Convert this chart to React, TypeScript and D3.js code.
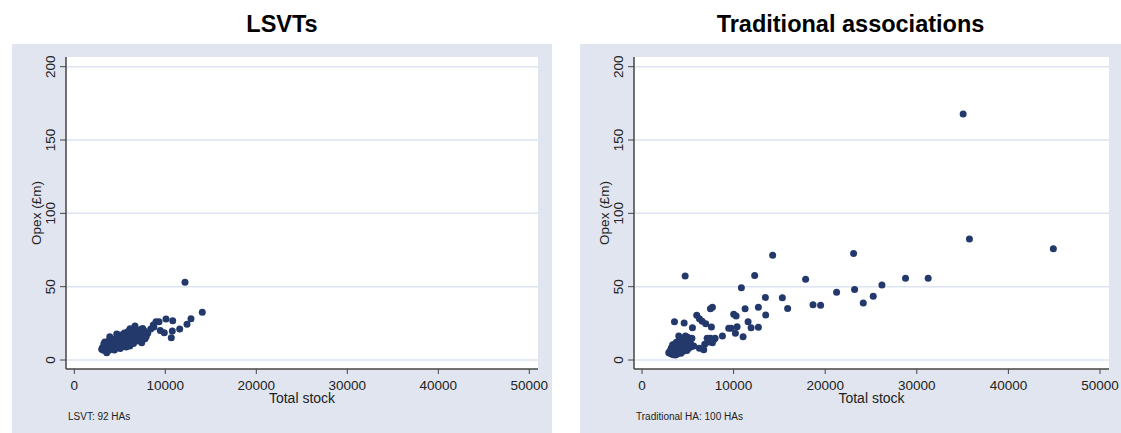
import React from "react";
import * as d3 from "d3";

// LSVT housing associations: total stock and opex (£m)
const lsvtStock: number[] = [
  12165, 14066, 12824, 12385, 11582, 10813, 10077, 10769, 10659, 9890, 9308, 8978, 9451, 8681, 8750, 8396, 8066, 7769, 7330, 7516, 6670, 7110, 6121, 7407,
  3011, 3100, 3200, 3300, 3350, 3450, 3560, 3600, 3700, 3750, 3800, 3900, 3950, 4000, 4100, 4150, 4200, 4300, 4350, 4400, 4500, 4550, 4659, 4700, 4750, 4800,
  4900, 4950, 5000, 5050, 5100, 5200, 5250, 5300, 5400, 5450, 5500, 5600, 5650, 5700, 5800, 5850, 5900, 6000, 6050, 6150, 6200, 6300, 6400, 6500, 6550, 6650,
  6750, 6850, 6950, 7050, 7200, 7500, 7700, 7900, 3400, 3850, 4600, 5150, 3250, 4050, 5550, 6100,
];
const lsvtOpex: number[] = [
  53.0, 32.5, 28.2, 24.3, 21.1, 26.8, 28.0, 19.8, 15.2, 18.6, 26.1, 26.1, 20.2, 23.9, 22.5, 21.1, 18.2, 14.5, 20.9, 21.4, 23.2, 20.0, 21.3, 11.8,
  7.3, 8.5, 6.6, 9.8, 12.2, 7.8, 5.0, 10.5, 8.2, 6.4, 11.6, 15.9, 9.3, 7.2, 12.8, 10.1, 8.6, 14.0, 11.2, 6.9, 9.6, 13.1, 17.7, 12.0, 8.4, 15.3,
  10.6, 13.9, 17.0, 7.9, 11.5, 14.6, 9.2, 16.3, 12.4, 10.0, 18.4, 14.0, 11.1, 8.8, 16.8, 13.2, 19.5, 10.3, 15.0, 12.6, 17.4, 13.8, 16.0, 11.3, 19.0, 14.8,
  17.6, 12.9, 16.3, 15.2, 18.3, 16.7, 19.8, 16.0, 10.9, 13.5, 11.9, 9.1, 11.0, 9.9, 12.5, 9.5,
];

// Traditional housing associations: total stock and opex (£m)
const tradStock: number[] = [
  35060, 35747, 44907, 23097, 14264, 17862, 28768, 31243, 26194, 23206, 21243, 25245, 24155, 15322, 15900, 18670, 19498, 4711, 12301, 10851, 13468, 12705,
  13501, 11254, 11581, 11908, 12705, 10011, 10273, 10382, 10196, 11036, 9466, 9727, 8779, 7688, 7470, 7982, 7579, 6957, 5976, 6270, 6565, 5507, 4602, 3544,
  6270, 6739, 7110, 7470, 7873, 6848, 7285, 7688,
  2922, 3050, 3150, 3200, 3300, 3350, 3400, 3470, 3500, 3600, 3653, 3700, 3750, 3800, 3850, 3900, 3950, 4015, 4050, 4100, 4150, 4200, 4250, 4300, 4350,
  4400, 4450, 4500, 4550, 4600, 4650, 4744, 4800, 4850, 4900, 4995, 5050, 5100, 5200, 5289, 5350, 5450, 5649, 3250, 3550, 4000,
];
const tradOpex: number[] = [
  167.7, 82.5, 75.9, 72.7, 71.4, 55.0, 55.7, 55.7, 51.1, 48.0, 46.2, 43.4, 38.9, 42.5, 35.2, 37.7, 37.3, 57.3, 57.7, 49.3, 42.7, 35.9,
  30.7, 35.0, 26.1, 22.0, 22.3, 31.2, 30.0, 22.7, 18.2, 15.9, 21.6, 21.6, 16.4, 35.9, 35.0, 14.8, 22.5, 24.8, 30.5, 28.2, 26.4, 22.0, 25.2, 26.1,
  8.0, 7.0, 14.8, 14.8, 14.1, 10.7, 12.3, 11.8,
  5.0, 6.2, 4.3, 8.1, 5.5, 10.4, 3.6, 10.2, 7.0, 4.8, 3.4, 9.2, 12.1, 6.3, 4.1, 8.6, 11.0, 16.4, 5.2, 13.5, 7.6, 9.9, 4.6, 12.3, 6.8,
  10.8, 14.6, 5.9, 8.4, 11.7, 7.1, 16.4, 13.0, 9.4, 6.4, 15.5, 11.9, 8.0, 13.8, 11.4, 9.0, 14.9, 9.5, 7.4, 9.0, 8.9,
];

const xTicks: number[] = [0, 10000, 20000, 30000, 40000, 50000];
const yTicks: number[] = [0, 50, 100, 150, 200];
const panelTitles: string[] = ["LSVTs", "Traditional associations"];
const panelNotes: string[] = ["LSVT: 92 HAs", "Traditional HA: 100 HAs"];
const xTitle = "Total stock";
const yTitle = "Opex (£m)";

const FONT = "'Liberation Sans', Arial, Helvetica, sans-serif";
const BG = "#e0e5ef";
const GRID = "#dde4ef";
const DOT = "#24396b";
const AXIS = "#444";

interface PanelProps {
  title: string;
  note: string;
  xs: number[];
  ys: number[];
  bgLeft: number;
  bgRight: number;
  plotLeft: number;
  plotRight: number;
  x0px: number;
  x50px: number;
}

function Panel(p: PanelProps) {
  const top = 57;
  const axisY = 369;
  const x = d3.scaleLinear().domain([0, 50000]).range([p.x0px, p.x50px]);
  const y = d3.scaleLinear().domain([0, 200]).range([360, 66.7]);
  const cx = (p.bgLeft + p.bgRight) / 2;
  const plotMid = (p.plotLeft + p.plotRight) / 2;
  const tickLabX = p.plotLeft - 11;
  const titleX = p.plotLeft - 25;
  return (
    <g>
      <text x={cx} y={32} textAnchor="middle" fontFamily={FONT} fontWeight="bold" fontSize={23.5} fill="#000">
        {p.title}
      </text>
      <rect x={p.bgLeft} y={44} width={p.bgRight - p.bgLeft} height={389} fill={BG} />
      <rect x={p.plotLeft} y={top} width={p.plotRight - p.plotLeft} height={axisY - top} fill="#fff" />
      {yTicks.map((t) => (
        <line key={"g" + t} x1={p.plotLeft} x2={p.plotRight} y1={y(t)} y2={y(t)} stroke={GRID} strokeWidth={1.5} />
      ))}
      {p.xs.map((v, i) => (
        <circle key={i} cx={x(v)} cy={y(p.ys[i])} r={3.5} fill={DOT} />
      ))}
      <line x1={p.plotLeft} x2={p.plotLeft} y1={top} y2={axisY} stroke={AXIS} strokeWidth={1.5} />
      <line x1={p.plotLeft} x2={p.plotRight} y1={axisY} y2={axisY} stroke={AXIS} strokeWidth={1.5} />
      {yTicks.map((t) => (
        <g key={"y" + t}>
          <line x1={p.plotLeft - 6} x2={p.plotLeft} y1={y(t)} y2={y(t)} stroke={AXIS} strokeWidth={1} />
          <text
            x={tickLabX}
            y={y(t)}
            transform={`rotate(-90 ${tickLabX} ${y(t)})`}
            textAnchor="middle"
            fontFamily={FONT}
            fontSize={13.5}
            fill="#222"
          >
            {t}
          </text>
        </g>
      ))}
      {xTicks.map((t) => (
        <g key={"x" + t}>
          <line x1={x(t)} x2={x(t)} y1={axisY} y2={axisY + 5} stroke={AXIS} strokeWidth={1} />
          <text x={x(t)} y={390} textAnchor="middle" fontFamily={FONT} fontSize={13.5} fill="#222">
            {t}
          </text>
        </g>
      ))}
      <text x={plotMid} y={403} textAnchor="middle" fontFamily={FONT} fontSize={14} fill="#222">
        {xTitle}
      </text>
      <text
        x={titleX}
        y={213}
        transform={`rotate(-90 ${titleX} 213)`}
        textAnchor="middle"
        fontFamily={FONT}
        fontSize={13.5}
        fill="#222"
      >
        {yTitle}
      </text>
      <text x={p.plotLeft + 2} y={420} fontFamily={FONT} fontSize={10} fill="#222">
        {p.note}
      </text>
    </g>
  );
}

export default function App() {
  return (
    <svg
      width={1121}
      height={433}
      style={{ position: "absolute", left: 0, top: 0, background: "#fff" }}
    >
      <Panel
        title={panelTitles[0]}
        note={panelNotes[0]}
        xs={lsvtStock}
        ys={lsvtOpex}
        bgLeft={12}
        bgRight={552}
        plotLeft={66}
        plotRight={538}
        x0px={74.3}
        x50px={529.3}
      />
      <Panel
        title={panelTitles[1]}
        note={panelNotes[1]}
        xs={tradStock}
        ys={tradOpex}
        bgLeft={580}
        bgRight={1121}
        plotLeft={634}
        plotRight={1109}
        x0px={642}
        x50px={1100}
      />
    </svg>
  );
}
